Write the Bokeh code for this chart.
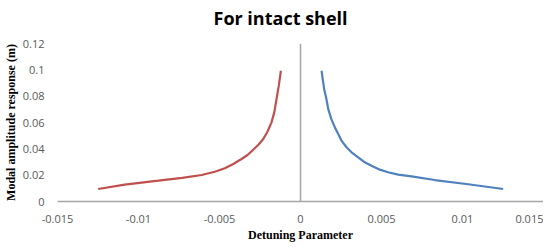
from bokeh.plotting import figure
from bokeh.models import Span, Range1d, FixedTicker, Title
from bokeh.embed import file_html
from bokeh.resources import INLINE

# Data
neg_x = [-0.01249, -0.01085, -0.00878, -0.0073, -0.0061, -0.00529, -0.00467, -0.00415, -0.00364,
         -0.00327, -0.00292, -0.00261, -0.0023, -0.00204, -0.00179, -0.00162, -0.00148, -0.00134, -0.00121]
neg_y = [0.0095, 0.0128, 0.0158, 0.0180, 0.0201, 0.0226, 0.0252, 0.0285, 0.0323,
         0.0353, 0.0393, 0.0429, 0.0475, 0.0530, 0.0601, 0.0677, 0.0778, 0.0880, 0.0993]

pos_x = [0.0013, 0.00146, 0.0016, 0.00171, 0.0019, 0.00212, 0.00233, 0.00253, 0.00284, 0.00315,
         0.00356, 0.00397, 0.00438, 0.0049, 0.00541, 0.00603, 0.00685, 0.00829, 0.01035, 0.01251]
pos_y = [0.0993, 0.0854, 0.0778, 0.0703, 0.0627, 0.0563, 0.0513, 0.0462, 0.0412, 0.0374,
         0.0336, 0.0298, 0.0272, 0.0242, 0.0222, 0.0204, 0.0191, 0.0163, 0.0131, 0.0095]

x_ticks = [-0.015, -0.01, -0.005, 0, 0.005, 0.01, 0.015]
x_tick_labels = ["-0.015", "-0.01", "-0.005", "0", "0.005", "0.01", "0.015"]
y_ticks = [0, 0.02, 0.04, 0.06, 0.08, 0.1, 0.12]
y_tick_labels = ["0", "0.02", "0.04", "0.06", "0.08", "0.1", "0.12"]

p = figure(frame_width=486, frame_height=158, output_backend="svg", toolbar_location=None,
           x_range=Range1d(-0.015, 0.015), y_range=Range1d(0, 0.12),
           min_border_left=0, min_border_right=0, min_border_top=0, min_border_bottom=0)
p.title = Title(text="For intact shell", align="left", offset=156, standoff=7,
                text_font="Open Sans", text_font_size="18px", text_font_style="bold",
                text_color="#000000")
# spacer between title and plot area
p.add_layout(Title(text=" ", text_font_size="1px", standoff=7), "above")

p.line(neg_x, neg_y, line_color="#C0504D", line_width=2.2)
p.line(pos_x, pos_y, line_color="#4F81BD", line_width=2.2)

p.add_layout(Span(location=0, dimension="height", line_color="#A6A6A6", line_width=1.5))

p.xgrid.visible = False
p.ygrid.visible = False
p.outline_line_color = None

p.xaxis.ticker = FixedTicker(ticks=x_ticks)
p.xaxis.major_label_overrides = {t: l for t, l in zip(x_ticks, x_tick_labels)}
p.yaxis.ticker = FixedTicker(ticks=y_ticks)
p.yaxis.major_label_overrides = {t: l for t, l in zip(y_ticks, y_tick_labels)}

for ax in (p.xaxis, p.yaxis):
    ax.major_tick_line_color = None
    ax.minor_tick_line_color = None
    ax.major_label_text_font = "Open Sans"
    ax.major_label_text_font_size = "11px"
    ax.major_label_text_color = "#595959"
    ax.axis_label_text_font = "Liberation Serif"
    ax.axis_label_text_font_style = "bold"
    ax.axis_label_text_font_size = "12px"
    ax.axis_label_text_color = "#000000"

p.xaxis.axis_line_color = "#A6A6A6"
p.xaxis.axis_line_width = 1.5
p.yaxis.axis_line_color = None

p.xaxis.axis_label = "Detuning Parameter"
p.yaxis.axis_label = "Modal amplitude response (m)"
p.xaxis.major_label_standoff = 7
p.xaxis.axis_label_standoff = 2
p.yaxis.major_label_standoff = 7
p.yaxis.axis_label_standoff = 2

p.background_fill_color = "white"
p.border_fill_color = "white"

open("out.html", "w").write(file_html(p, INLINE))
